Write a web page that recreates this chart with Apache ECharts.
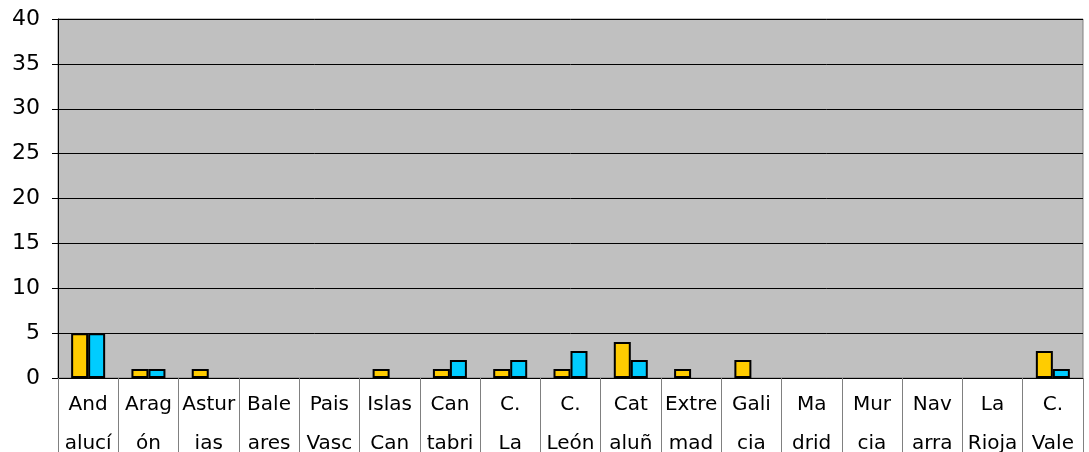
<!DOCTYPE html>
<html><head><meta charset="utf-8">
<script src="https://cdn.jsdelivr.net/npm/echarts@6/dist/echarts.min.js"></script>
<style>html,body{margin:0;padding:0;background:#fff}#c{width:1089px;height:452px}</style>
</head><body><div id="c"></div>
<script>
const categories = ["And\nalucí","Arag\nón","Astur\nias","Bale\nares","Pais\nVasc","Islas\nCan","Can\ntabri","C.\nLa","C.\nLeón","Cat\naluñ","Extre\nmad","Gali\ncia","Ma\ndrid","Mur\ncia","Nav\narra","La\nRioja","C.\nVale"];
const seriesA = [5,1,1,0,0,1,1,1,1,4,1,2,0,0,0,0,3];
const seriesB = [5,1,0,0,0,0,2,2,3,2,0,0,0,0,0,0,1];
const yMin = 0, yMax = 40, yInterval = 5;
const FONT = "DejaVu Sans";
const toItems = arr => arr.map(v => v === 0 ? {value:v, itemStyle:{borderWidth:0, opacity:0}} : v);
const chart = echarts.init(document.getElementById('c'), null, {renderer:'canvas'});
chart.setOption({
  animation:false,
  grid:{left:58,right:6,top:19,bottom:74,outerBoundsMode:'none',containLabel:false,show:true,backgroundColor:'#C0C0C0',borderColor:'#808080',borderWidth:1},
  xAxis:{type:'category',data:categories,
    axisLine:{lineStyle:{color:'#000',width:1}},
    axisTick:{show:true,length:74,interval:0,lineStyle:{color:'#808080'}},
    axisLabel:{interval:0,fontFamily:FONT,fontSize:20,color:'#000',lineHeight:39,margin:7}},
  yAxis:{type:'value',min:yMin,max:yMax,interval:yInterval,
    axisLine:{show:true,lineStyle:{color:'#000',width:1}},
    axisTick:{show:true,inside:false,length:6,lineStyle:{color:'#000'}},
    splitLine:{show:true,lineStyle:{color:'#000',width:1}},
    axisLabel:{fontFamily:FONT,fontSize:22,color:'#000',margin:18}},
  series:[
    {type:'bar',data:toItems(seriesA),barWidth:17,barGap:'0%',itemStyle:{color:'#FFCC00',borderColor:'#000',borderWidth:2}},
    {type:'bar',data:toItems(seriesB),barWidth:17,barGap:'0%',itemStyle:{color:'#00CCFF',borderColor:'#000',borderWidth:2}}
  ]
});
</script></body></html>
